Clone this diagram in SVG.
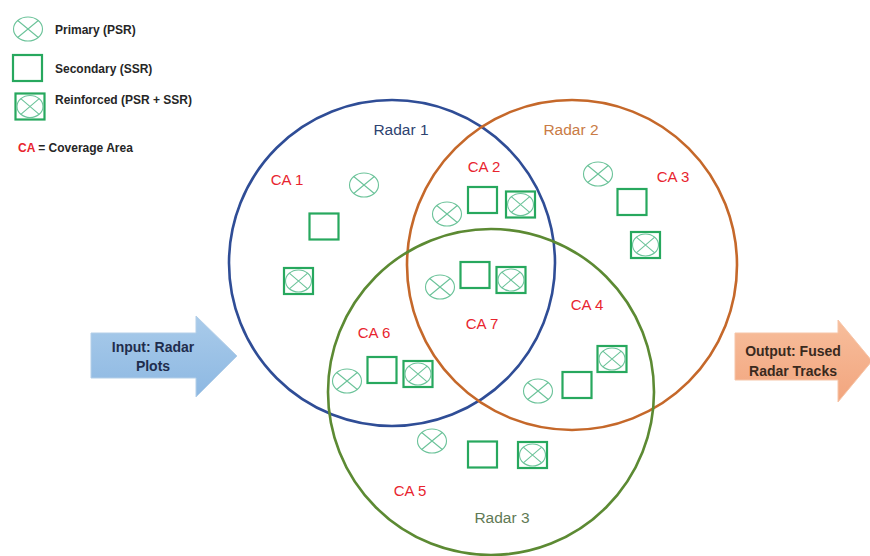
<svg xmlns="http://www.w3.org/2000/svg" width="870" height="556" viewBox="0 0 870 556">
<style>
text{font-family:"Liberation Sans",Arial,sans-serif}
.leg{font-size:12px;font-weight:bold;fill:#262626}
.ca{font-size:15px;fill:#E8242E}
.rl{font-size:15.5px}
.arrt{font-size:14px;font-weight:bold;text-anchor:middle}
.thin{fill:none;stroke:#6CC39A;stroke-width:1.1}
.box{fill:none;stroke:#27A85E;stroke-width:2.2}
</style>
<defs>
<linearGradient id="gIn" x1="0" y1="0" x2="0" y2="1">
<stop offset="0" stop-color="#A9CBEA"/><stop offset="1" stop-color="#8DB8E2"/>
</linearGradient>
<linearGradient id="gOut" x1="0" y1="0" x2="0" y2="1">
<stop offset="0" stop-color="#F7BE9C"/><stop offset="1" stop-color="#F2A57E"/>
</linearGradient>
<g id="psr"><ellipse class="thin" rx="14.5" ry="12"/><path class="thin" d="M-10.3,-8.5L10.3,8.5M10.3,-8.5L-10.3,8.5"/></g>
<g id="ssr"><rect class="box" x="-14.5" y="-13" width="29" height="26"/></g>
<g id="rnf"><rect class="box" x="-14.5" y="-13" width="29" height="26"/><ellipse class="thin" rx="13" ry="11"/><path class="thin" d="M-9.2,-7.8L9.2,7.8M9.2,-7.8L-9.2,7.8"/></g>
</defs>
<rect width="870" height="556" fill="#fff"/>

<g id="legend">
<use href="#psr" x="28" y="29"/>
<text class="leg" x="55" y="34">Primary (PSR)</text>
<use href="#ssr" x="27.5" y="68"/>
<text class="leg" x="55" y="73">Secondary (SSR)</text>
<use href="#rnf" x="30" y="106.5"/>
<text class="leg" x="55" y="104">Reinforced (PSR + SSR)</text>
<text class="leg" x="18" y="152"><tspan fill="#E8242E">CA</tspan> = Coverage Area</text>
</g>

<g id="radar1">
<circle cx="392" cy="263" r="163" fill="none" stroke="#2F4D96" stroke-width="2.6"/>
<text class="rl" x="401" y="135" text-anchor="middle" fill="#2E4370">Radar 1</text>
</g>
<g id="radar2">
<circle cx="572" cy="265" r="165" fill="none" stroke="#C5682A" stroke-width="2.6"/>
<text class="rl" x="571" y="135" text-anchor="middle" fill="#C97B45">Radar 2</text>
</g>
<g id="radar3">
<circle cx="491" cy="392" r="163" fill="none" stroke="#5C8A33" stroke-width="2.6"/>
<text class="rl" x="502" y="523" text-anchor="middle" fill="#5F7A55">Radar 3</text>
</g>

<g id="ca1">
<text class="ca" x="287" y="185" text-anchor="middle">CA 1</text>
<use href="#psr" x="364" y="185"/><use href="#ssr" x="324" y="226.5"/><use href="#rnf" x="298.5" y="281"/>
</g>
<g id="ca2">
<text class="ca" x="484" y="172" text-anchor="middle">CA 2</text>
<use href="#psr" x="447" y="214"/><use href="#ssr" x="482.5" y="200"/><use href="#rnf" x="520.5" y="204.5"/>
</g>
<g id="ca3">
<text class="ca" x="673" y="182" text-anchor="middle">CA 3</text>
<use href="#psr" x="598" y="174"/><use href="#ssr" x="632" y="202"/><use href="#rnf" x="645.5" y="245"/>
</g>
<g id="ca4">
<text class="ca" x="587" y="310" text-anchor="middle">CA 4</text>
<use href="#psr" x="538" y="391"/><use href="#ssr" x="577" y="385"/><use href="#rnf" x="612" y="359"/>
</g>
<g id="ca5">
<text class="ca" x="410" y="496" text-anchor="middle">CA 5</text>
<use href="#psr" x="432" y="441"/><use href="#ssr" x="482.5" y="454.5"/><use href="#rnf" x="532.5" y="455"/>
</g>
<g id="ca6">
<text class="ca" x="374" y="338" text-anchor="middle">CA 6</text>
<use href="#psr" x="347" y="381"/><use href="#ssr" x="382" y="370"/><use href="#rnf" x="418" y="374"/>
</g>
<g id="ca7">
<text class="ca" x="482" y="329" text-anchor="middle">CA 7</text>
<use href="#psr" x="440" y="287"/><use href="#ssr" x="475" y="275"/><use href="#rnf" x="511" y="280"/>
</g>

<g id="input">
<path d="M91,333H196V316L237,356L196,397V378H91Z" fill="url(#gIn)" stroke="#B4CFE8" stroke-width="1"/>
<text class="arrt" x="153" y="352" fill="#1F2D4D">Input: Radar</text>
<text class="arrt" x="153" y="371" fill="#1F2D4D">Plots</text>
</g>
<g id="output">
<path d="M735,333H838V320L872,361L838,402V380H735Z" fill="url(#gOut)" stroke="#F6C5A8" stroke-width="1"/>
<text class="arrt" x="793" y="356" fill="#3A2A1E">Output: Fused</text>
<text class="arrt" x="793" y="376" fill="#3A2A1E">Radar Tracks</text>
</g>
</svg>
